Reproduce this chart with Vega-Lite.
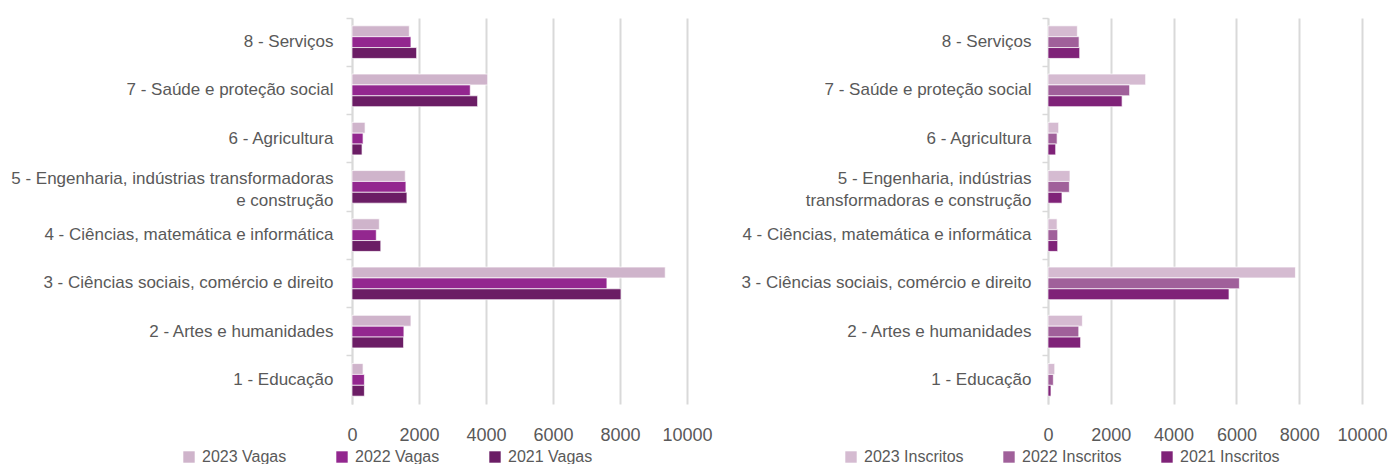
{
  "$schema": "https://vega.github.io/schema/vega-lite/v6.json",
  "padding": {"left": 0, "top": 17, "right": 0, "bottom": 0},
  "bounds": "flush",
  "spacing": 361,
  "background": "white",
  "config": {
    "view": {"stroke": null},
    "font": "Liberation Sans",
    "axisY": {
      "title": null, "domainColor": "#d9d9d9", "domainWidth": 1.5, "tickColor": "#d9d9d9",
      "tickSize": 6, "tickWidth": 1.5, "bandPosition": 0, "labelFontSize": 17, "labelColor": "#595959",
      "labelPadding": 13, "grid": false, "labelLimit": 400, "labelExpr": "split(datum.label, '|')",
      "labelLineHeight": 22, "minExtent": 352, "maxExtent": 352
    },
    "axisX": {
      "title": null, "grid": true, "gridColor": "#d9d9d9", "gridWidth": 2, "domain": false, "ticks": false,
      "tickSize": 0, "labelFontSize": 18, "labelColor": "#595959",
      "labelPadding": 22, "format": "d", "labelOverlap": false, "labelFlush": false, "labelBound": false
    },
    "legend": {
      "title": null, "symbolType": "square", "symbolSize": 130, "symbolStrokeWidth": 0, "labelFontSize": 16,
      "labelColor": "#595959", "padding": 0, "labelOffset": 5, "direction": "horizontal", "orient": "none"
    }
  },
  "hconcat": [
    {
      "width": 335,
      "height": 386,
      "data": {"values": [
        {"area": "8 - Serviços", "serie": "2023 Vagas", "valor": 1710},
        {"area": "8 - Serviços", "serie": "2022 Vagas", "valor": 1760},
        {"area": "8 - Serviços", "serie": "2021 Vagas", "valor": 1930},
        {"area": "7 - Saúde e proteção social", "serie": "2023 Vagas", "valor": 4050},
        {"area": "7 - Saúde e proteção social", "serie": "2022 Vagas", "valor": 3530},
        {"area": "7 - Saúde e proteção social", "serie": "2021 Vagas", "valor": 3750},
        {"area": "6 - Agricultura", "serie": "2023 Vagas", "valor": 390},
        {"area": "6 - Agricultura", "serie": "2022 Vagas", "valor": 330},
        {"area": "6 - Agricultura", "serie": "2021 Vagas", "valor": 300},
        {"area": "5 - Engenharia, indústrias transformadoras|e construção", "serie": "2023 Vagas", "valor": 1590},
        {"area": "5 - Engenharia, indústrias transformadoras|e construção", "serie": "2022 Vagas", "valor": 1610},
        {"area": "5 - Engenharia, indústrias transformadoras|e construção", "serie": "2021 Vagas", "valor": 1640},
        {"area": "4 - Ciências, matemática e informática", "serie": "2023 Vagas", "valor": 815},
        {"area": "4 - Ciências, matemática e informática", "serie": "2022 Vagas", "valor": 725},
        {"area": "4 - Ciências, matemática e informática", "serie": "2021 Vagas", "valor": 860},
        {"area": "3 - Ciências sociais, comércio e direito", "serie": "2023 Vagas", "valor": 9350},
        {"area": "3 - Ciências sociais, comércio e direito", "serie": "2022 Vagas", "valor": 7610},
        {"area": "3 - Ciências sociais, comércio e direito", "serie": "2021 Vagas", "valor": 8030},
        {"area": "2 - Artes e humanidades", "serie": "2023 Vagas", "valor": 1760},
        {"area": "2 - Artes e humanidades", "serie": "2022 Vagas", "valor": 1550},
        {"area": "2 - Artes e humanidades", "serie": "2021 Vagas", "valor": 1540},
        {"area": "1 - Educação", "serie": "2023 Vagas", "valor": 330},
        {"area": "1 - Educação", "serie": "2022 Vagas", "valor": 370},
        {"area": "1 - Educação", "serie": "2021 Vagas", "valor": 370}
      ]},
      "mark": {"type": "bar", "stroke": "white", "strokeWidth": 0.7},
      "encoding": {
        "y": {"field": "area", "type": "nominal", "sort": null, "scale": {"paddingInner": 0, "paddingOuter": 0},
          "axis": {"labelOffset": {"condition": {"test": "indexof(datum.value, '|') >= 0", "value": -8}, "value": 0}}},
        "yOffset": {"field": "serie", "type": "nominal", "scale": {"domain": ["2023 Vagas", "2022 Vagas", "2021 Vagas"], "paddingInner": 0, "paddingOuter": 0.72}},
        "x": {"field": "valor", "type": "quantitative", "scale": {"domain": [0, 10000], "nice": false},
          "axis": {"values": [0, 2000, 4000, 6000, 8000, 10000]}},
        "color": {"field": "serie", "type": "nominal",
          "scale": {"domain": ["2023 Vagas", "2022 Vagas", "2021 Vagas"], "range": ["#CFB4CB", "#93278F", "#6B1D65"]},
          "legend": {"legendX": -171, "legendY": 431, "columnPadding": 47}}
      }
    },
    {
      "width": 314,
      "height": 386,
      "data": {"values": [
        {"area": "8 - Serviços", "serie": "2023 Inscritos", "valor": 935},
        {"area": "8 - Serviços", "serie": "2022 Inscritos", "valor": 990},
        {"area": "8 - Serviços", "serie": "2021 Inscritos", "valor": 1010},
        {"area": "7 - Saúde e proteção social", "serie": "2023 Inscritos", "valor": 3110},
        {"area": "7 - Saúde e proteção social", "serie": "2022 Inscritos", "valor": 2600},
        {"area": "7 - Saúde e proteção social", "serie": "2021 Inscritos", "valor": 2360},
        {"area": "6 - Agricultura", "serie": "2023 Inscritos", "valor": 340},
        {"area": "6 - Agricultura", "serie": "2022 Inscritos", "valor": 290},
        {"area": "6 - Agricultura", "serie": "2021 Inscritos", "valor": 245},
        {"area": "5 - Engenharia, indústrias|transformadoras e construção", "serie": "2023 Inscritos", "valor": 700},
        {"area": "5 - Engenharia, indústrias|transformadoras e construção", "serie": "2022 Inscritos", "valor": 680},
        {"area": "5 - Engenharia, indústrias|transformadoras e construção", "serie": "2021 Inscritos", "valor": 445},
        {"area": "4 - Ciências, matemática e informática", "serie": "2023 Inscritos", "valor": 290},
        {"area": "4 - Ciências, matemática e informática", "serie": "2022 Inscritos", "valor": 310},
        {"area": "4 - Ciências, matemática e informática", "serie": "2021 Inscritos", "valor": 310},
        {"area": "3 - Ciências sociais, comércio e direito", "serie": "2023 Inscritos", "valor": 7880},
        {"area": "3 - Ciências sociais, comércio e direito", "serie": "2022 Inscritos", "valor": 6095},
        {"area": "3 - Ciências sociais, comércio e direito", "serie": "2021 Inscritos", "valor": 5765},
        {"area": "2 - Artes e humanidades", "serie": "2023 Inscritos", "valor": 1095},
        {"area": "2 - Artes e humanidades", "serie": "2022 Inscritos", "valor": 980},
        {"area": "2 - Artes e humanidades", "serie": "2021 Inscritos", "valor": 1040},
        {"area": "1 - Educação", "serie": "2023 Inscritos", "valor": 215},
        {"area": "1 - Educação", "serie": "2022 Inscritos", "valor": 170},
        {"area": "1 - Educação", "serie": "2021 Inscritos", "valor": 95}
      ]},
      "mark": {"type": "bar", "stroke": "white", "strokeWidth": 0.7},
      "encoding": {
        "y": {"field": "area", "type": "nominal", "sort": null, "scale": {"paddingInner": 0, "paddingOuter": 0},
          "axis": {"labelPadding": 11, "minExtent": 20, "maxExtent": 400,
            "labelOffset": {"condition": {"test": "indexof(datum.value, '|') >= 0", "value": -8}, "value": 0}}},
        "yOffset": {"field": "serie", "type": "nominal", "scale": {"domain": ["2023 Inscritos", "2022 Inscritos", "2021 Inscritos"], "paddingInner": 0, "paddingOuter": 0.72}},
        "x": {"field": "valor", "type": "quantitative", "scale": {"domain": [0, 10000], "nice": false},
          "axis": {"values": [0, 2000, 4000, 6000, 8000, 10000]}},
        "color": {"field": "serie", "type": "nominal",
          "scale": {"domain": ["2023 Inscritos", "2022 Inscritos", "2021 Inscritos"], "range": ["#D5BBD1", "#A0609A", "#7F2278"]},
          "legend": {"legendX": -205, "legendY": 431, "columnPadding": 37}}
      }
    }
  ],
  "resolve": {"scale": {"color": "independent", "y": "independent", "x": "independent", "yOffset": "independent"}, "legend": {"color": "independent"}}
}
